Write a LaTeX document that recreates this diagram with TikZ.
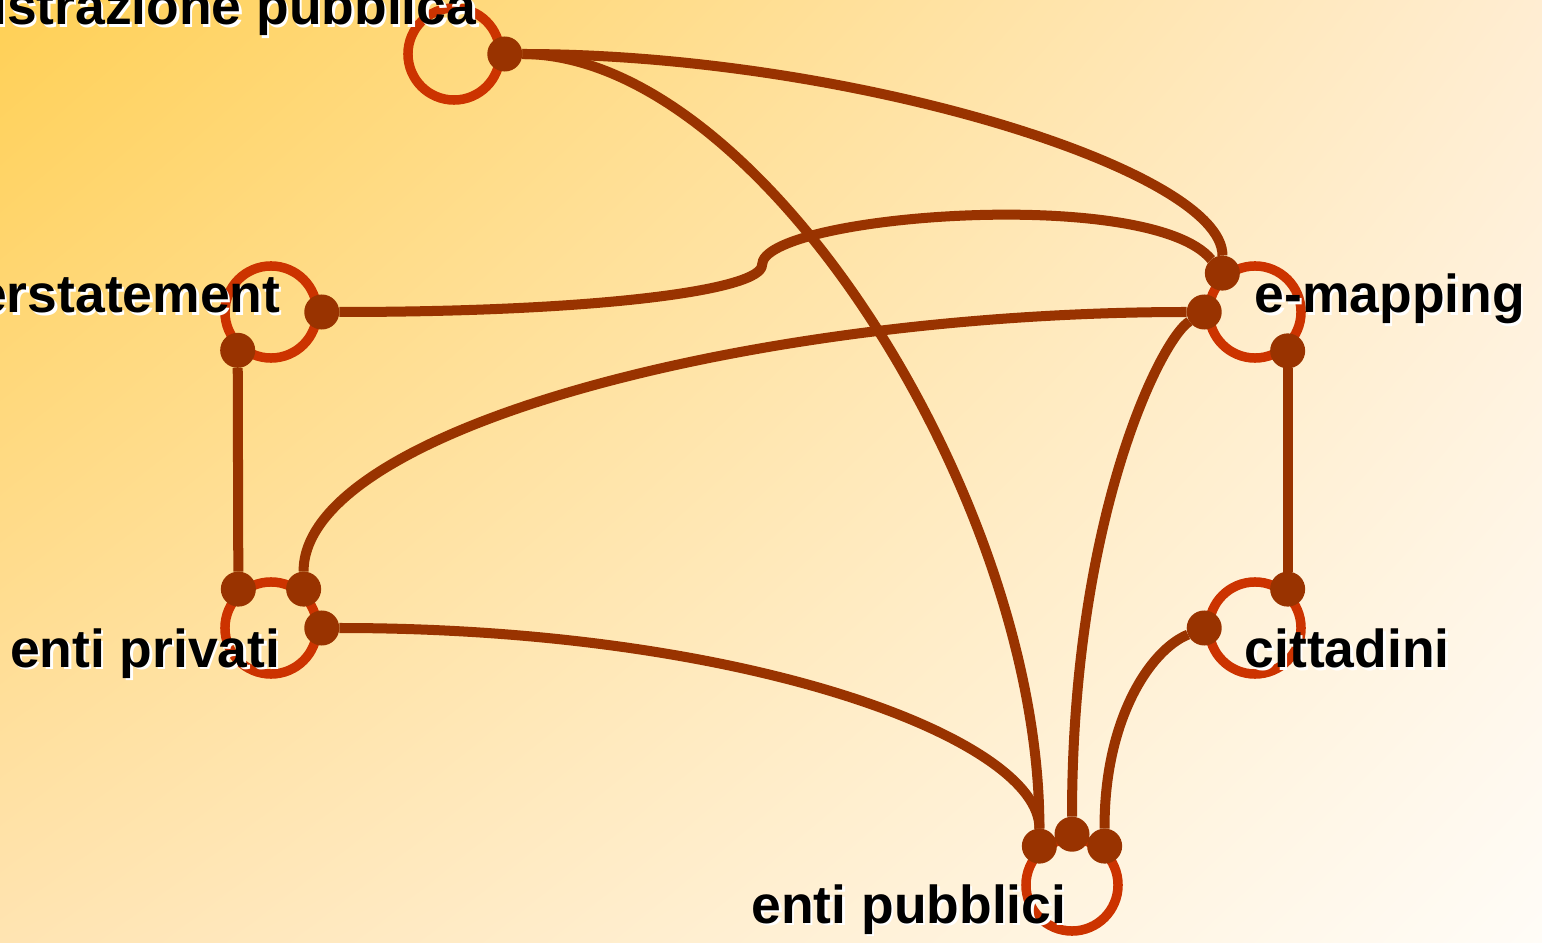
\documentclass[tikz,border=0pt]{standalone}
\usepackage{fontspec}
\setmainfont{Liberation Sans}
\usepackage{xcolor}
\definecolor{ringred}{RGB}{204,51,0}
\definecolor{linkbrown}{RGB}{153,51,0}
\definecolor{bgul}{RGB}{255,208,85}
\definecolor{bgur}{RGB}{255,237,210}
\definecolor{bgll}{RGB}{255,228,178}
\definecolor{bglr}{RGB}{255,252,247}
\newcommand{\shadowtext}[1]{\makebox[0pt][l]{\hspace{0.7pt}\raisebox{-0.7pt}{\color{white}#1}}#1}
\usetikzlibrary{shapes,shadings}

\begin{document}
\begin{tikzpicture}[
    x=0.01cm, y=-0.01cm,
    ring/.style={circle, draw=ringred, line width=0.095cm, minimum size=0.92cm, inner sep=0pt},
    dot/.style={circle, fill=linkbrown, minimum size=0.35cm, inner sep=0pt, outer sep=0pt},
    link/.style={draw=linkbrown, line width=0.1cm, line join=round},
    lbl/.style={inner sep=0pt, font=\fontsize{15.2pt}{18pt}\selectfont\bfseries}
]
% Frame and background
\useasboundingbox (0,0) rectangle (1542,943);
\clip (0,0) rectangle (1542,943);
\shade[upper left=bgul, upper right=bgur, lower left=bgll, lower right=bglr] (0,0) rectangle (1542,943);

% Rings
\node[ring] (ap) at (454,54) {};
\node[ring] (ov) at (271,312) {};
\node[ring] (em) at (1255,312) {};
\node[ring] (pr) at (271,628) {};
\node[ring] (ci) at (1255,628) {};
\node[ring] (pu) at (1072,885) {};

% Ports
\node[dot] (ap0) at (ap.0) {};
\node[dot] (ov0) at (ov.0) {};
\node[dot] (ov229) at (ov.229) {};
\node[dot] (em130) at (em.130) {};
\node[dot] (em180) at (em.180) {};
\node[dot] (em310) at (em.310) {};
\node[dot] (pr130) at (pr.130) {};
\node[dot] (pr50) at (pr.50) {};
\node[dot] (pr0) at (pr.0) {};
\node[dot] (ci50) at (ci.50) {};
\node[dot] (ci180) at (ci.180) {};
\node[dot] (pu130) at (pu.130) {};
\node[dot] (pu90) at (pu.90) {};
\node[dot] (pu50) at (pu.50) {};

% Links
\draw[link] (ap0) .. controls (760,54) and (1040,500) .. (pu130);
\draw[link] (ap0) .. controls (850,54) and (1223,170) .. (em130);
\draw[link] (ov0) .. controls (600,312) and (762,290) .. (762,265)
    .. controls (762,215) and (1150,185) .. (em130);
\draw[link] (ov229) -- (pr130);
\draw[link] (em180) .. controls (750,312) and (303,430) .. (pr50);
\draw[link] (em180) .. controls (1160,340) and (1072,520) .. (pu90);
\draw[link] (em310) -- (ci50);
\draw[link] (pr0) .. controls (750,628) and (1040,740) .. (pu130);
\draw[link] (ci180) .. controls (1150,650) and (1104,720) .. (pu50);

% Labels
\node[lbl, anchor=base east] (aplabel) at (477,25) {\shadowtext{amministrazione pubblica}};
\node[lbl, anchor=base east] (ovlabel) at (281,313) {\shadowtext{overstatement}};
\node[lbl, anchor=base west] (emlabel) at (1254,313) {\shadowtext{e-mapping}};
\node[lbl, anchor=base east] (prlabel) at (281,667) {\shadowtext{enti privati}};
\node[lbl, anchor=base west] (cilabel) at (1244,668) {\shadowtext{cittadini}};
\node[lbl, anchor=base east] (pulabel) at (1067,923) {\shadowtext{enti pubblici}};
\end{tikzpicture}
\end{document}
